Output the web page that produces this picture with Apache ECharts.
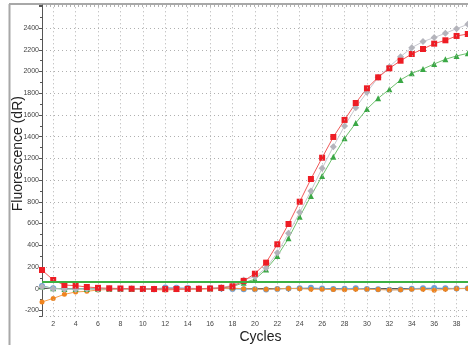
<!DOCTYPE html>
<html>
<head>
<meta charset="utf-8">
<script src="https://cdn.jsdelivr.net/npm/echarts@6/dist/echarts.min.js"></script>
<style>html,body{margin:0;padding:0;background:#fff}#c{width:468px;height:345px}</style>
</head>
<body>
<div id="c"></div>
<script>
var cycles = [];
for (var i = 1; i <= 39; i++) cycles.push(i);
var redVals = [172,80,34,28,16,8,4,2,0,-2,-3,-4,-3,-2,0,2,8,22,72,138,240,409,596,801,1010,1206,1397,1554,1710,1845,1946,2029,2099,2161,2207,2256,2287,2327,2345];
var grayVals = [18,0,-5,-4,-3,-2,-1,0,-1,-2,-3,-2,-1,0,1,3,10,31,80,110,190,331,510,703,900,1108,1308,1498,1667,1808,1946,2044,2136,2219,2275,2312,2352,2394,2434];
var greenVals = [20,5,-2,-3,-2,-1,0,-1,-2,-3,-2,-1,0,1,0,2,6,20,55,87,178,301,464,663,854,1038,1216,1385,1525,1654,1753,1836,1922,1983,2023,2069,2112,2143,2167];
var blueVals = [25,4,-3,-2,0,-5,-3,-2,0,-1,-4,10,8,6,0,4,3,-2,-5,-6,-8,-3,2,5,8,2,-3,0,4,-2,-4,-10,-8,0,5,6,4,2,4];
var orangeVals = [-122,-89,-52,-30,-24,-12,-7,-3,-2,-5,-8,-12,-8,-6,-4,-2,2,5,0,-4,-6,-2,2,0,-4,-6,-8,-10,-6,-5,-8,-12,-10,-6,-4,-14,-6,0,2];
var threshold = 65;
var xGridTicks = [2,4,6,8,10,12,14,16,18,20,22,24,26,28,30,32,34,36,38];

function pairs(v){ return v.map(function(y,i){ return [cycles[i], y]; }); }

var chart = echarts.init(document.getElementById('c'), null, {renderer:'canvas'});
var FONT = 'Liberation Sans';
var dotted = {color:'#b0b0b0', type:[1,3], width:1};

function mk(name, vals, sym, symColor, lineColor, size){
  return {
    name: name, type:'line', data: pairs(vals), symbol: sym, symbolSize: size,
    itemStyle:{color: symColor}, lineStyle:{color: lineColor, width:1},
    emphasis:{disabled:true}, animation:false, z:3
  };
}

var series = [
  {
    type:'line', data:[], silent:true, animation:false,
    markLine:{
      silent:true, symbol:['none','none'], label:{show:false}, animation:false,
      lineStyle: dotted,
      data: xGridTicks.map(function(t){ return {xAxis:t}; })
    }
  },
  {
    type:'line', data:[], silent:true, animation:false, z:2,
    markLine:{
      silent:true, symbol:['none','none'], label:{show:false}, animation:false,
      lineStyle:{color:'#3cb043', type:'solid', width:2},
      data:[{yAxis: threshold}]
    }
  },
  mk('blue', blueVals, 'circle', '#6b9fd6', '#7fb0e0', 6),
  mk('orange', orangeVals, 'circle', '#f0841e', '#f4a050', 5),
  mk('green', greenVals, 'triangle', '#3aa845', '#70c070', 6),
  mk('gray', grayVals, 'diamond', '#b4b4bc', '#c8c8d0', 7),
  mk('red', redVals, 'rect', '#ee1c24', '#f05a5a', 6)
];

chart.setOption({
  backgroundColor:'#fff',
  animation:false,
  graphic:[
    {type:'line', shape:{x1:9.5,y1:4,x2:9.5,y2:345}, style:{stroke:'#a8a8a8', lineWidth:2}, silent:true},
    {type:'line', shape:{x1:9,y1:4,x2:468,y2:4}, style:{stroke:'#a8a8a8', lineWidth:2}, silent:true}
  ],
  grid:{left:42, top:5, width:437, height:311.3, containLabel:false, outerBoundsMode:'none'},
  xAxis:{
    type:'value', min:1, max:40, interval:1,
    name:'Cycles', nameLocation:'middle', nameGap:14, nameMoveOverlap:false,
    nameTextStyle:{fontFamily:FONT, fontSize:14, color:'#222'},
    axisLine:{lineStyle:{color:'#555', width:1}},
    axisTick:{show:true, length:3, lineStyle:{color:'#555'}},
    axisLabel:{fontFamily:FONT, fontSize:7, color:'#444', margin:4,
      formatter:function(v){ return (v % 2 === 0 && v < 40) ? String(v) : ''; }},
    splitLine:{show:false}
  },
  yAxis:{
    type:'value', min:-254, max:2612, splitNumber:14,
    name:'Fluorescence (dR)', nameLocation:'middle', nameGap:17, nameMoveOverlap:false,
    nameTextStyle:{fontFamily:FONT, fontSize:14, color:'#222', padding:[0,0,0,14]},
    axisLine:{show:true, lineStyle:{color:'#555', width:1}},
    axisTick:{show:true, length:3, lineStyle:{color:'#555'}},
    minorTick:{show:true, splitNumber:2, length:2, lineStyle:{color:'#555'}},
    axisLabel:{fontFamily:FONT, fontSize:7, color:'#444', margin:3, showMinLabel:false, showMaxLabel:false,
      formatter:function(v){ return (v % 200 === 0 && v < 2600 && v > -254) ? String(v) : ''; }},
    splitLine:{show:true, lineStyle:dotted}
  },
  series: series
});
</script>
</body>
</html>
